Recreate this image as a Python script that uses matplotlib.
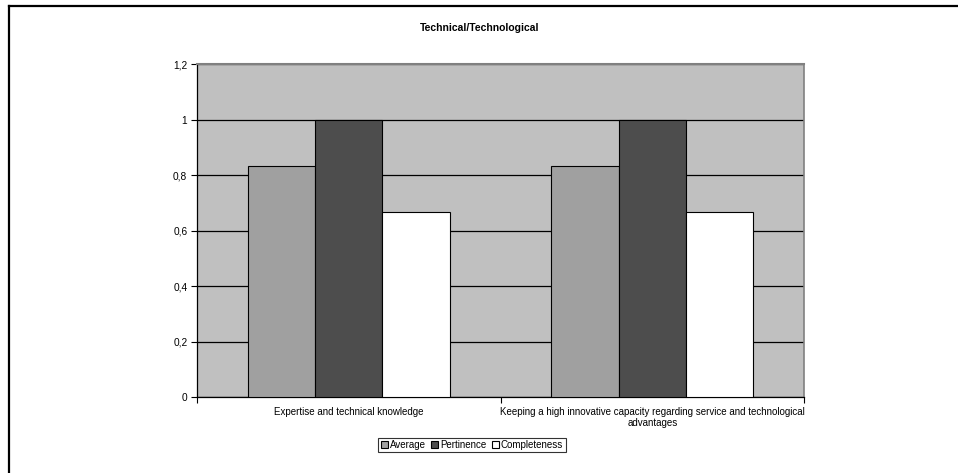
import matplotlib
matplotlib.use('Agg')
import matplotlib.pyplot as plt
import numpy as np
from matplotlib.lines import Line2D
from matplotlib.ticker import FuncFormatter, FixedLocator, NullFormatter

plt.rcParams['font.family'] = ['Liberation Sans', 'DejaVu Sans']

# data
categories = ['Expertise and technical knowledge',
              'Keeping a high innovative capacity regarding service and technological\nadvantages']
series = ['Average', 'Pertinence', 'Completeness']
average = [0.8333, 0.8333]
pertinence = [1.0, 1.0]
completeness = [0.6667, 0.6667]
y_ticks = [0, 0.2, 0.4, 0.6, 0.8, 1.0, 1.2]

colors = ['#A0A0A0', '#4D4D4D', '#FFFFFF']

W, H = 958, 473
fig = plt.figure(figsize=(W / 100, H / 100), dpi=100)
fig.patch.set_facecolor('white')

# outer chart border (left and top only visible)
fig.add_artist(Line2D([9 / W, 9 / W], [0, 1 - 6 / H], color='black', lw=1.6,
                      transform=fig.transFigure))
fig.add_artist(Line2D([9 / W, 1], [1 - 6 / H, 1 - 6 / H], color='black', lw=1.6,
                      transform=fig.transFigure))

ax = fig.add_axes([197 / W, 1 - 397 / H, (804 - 197) / W, (397 - 64) / H])
ax.set_facecolor('#C0C0C0')

x = np.arange(len(categories))
bw = 0.222
for i, (vals, c) in enumerate(zip([average, pertinence, completeness], colors)):
    ax.bar(x + (i - 1) * bw, vals, width=bw, color=c, edgecolor='black',
           linewidth=0.8, label=series[i], zorder=3)

ax.set_xlim(-0.5, len(categories) - 0.5)
ax.set_ylim(0, 1.2)
ax.set_yticks(y_ticks)
ax.yaxis.set_major_formatter(FuncFormatter(lambda v, p: ('%g' % v).replace('.', ',')))
ax.yaxis.grid(True, color='black', linewidth=0.9, zorder=1)
ax.set_axisbelow(True)

# category axis: ticks at boundaries, labels at centers
ax.xaxis.set_major_locator(FixedLocator([-0.5, 0.5, 1.5]))
ax.xaxis.set_major_formatter(NullFormatter())
ax.xaxis.set_minor_locator(FixedLocator(list(x)))
ax.set_xticklabels(categories, minor=True, fontsize=7)
ax.tick_params(axis='x', which='major', length=4, width=0.8, direction='out')
ax.tick_params(axis='x', which='minor', length=0, pad=7)
ax.tick_params(axis='y', length=4, width=0.8, direction='out', labelsize=7.3, pad=3)

for s in ['left', 'bottom']:
    ax.spines[s].set_color('black')
    ax.spines[s].set_linewidth(0.9)
ax.spines['top'].set_color('#808080')
ax.spines['top'].set_linewidth(1.5)
ax.spines['right'].set_color('#808080')
ax.spines['right'].set_linewidth(1.2)

fig.text(480 / W, 1 - 28 / H, 'Technical/Technological', ha='center', va='center',
         fontsize=7.5, fontweight='bold')

leg = ax.legend(loc='center', bbox_to_anchor=(472 / W, 1 - 445 / H),
                bbox_transform=fig.transFigure, ncol=3, fontsize=7, frameon=True,
                fancybox=False, edgecolor='black', handlelength=0.7, handleheight=0.7,
                handletextpad=0.2, columnspacing=0.6, borderpad=0.25,
                borderaxespad=0)
leg.get_frame().set_linewidth(0.8)

fig.savefig('out.png', dpi=100)
